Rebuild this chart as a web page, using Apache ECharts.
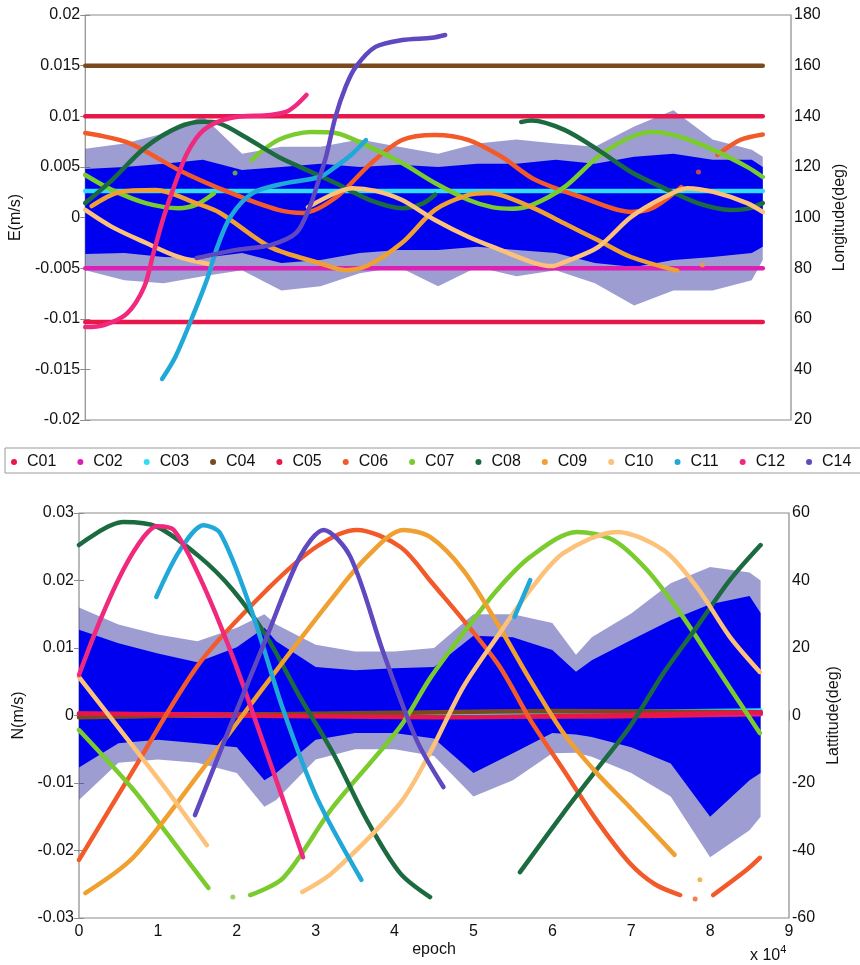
<!DOCTYPE html>
<html>
<head>
<meta charset="utf-8">
<script src="https://cdn.jsdelivr.net/npm/echarts@6/dist/echarts.min.js"></script>
<style>
  html, body { margin: 0; padding: 0; background: #fff; }
  #chart { width: 860px; height: 965px; }
</style>
</head>
<body>
<div id="chart"></div>
<script>
  // epoch values are in units of 10^4 s (as on the axis)
  const satNames = ['C01', 'C02', 'C03', 'C04', 'C05', 'C06', 'C07', 'C08', 'C09', 'C10', 'C11', 'C12', 'C14'];

  // ---- top panel: E velocity noise envelope (m/s) ----
  const noiseEpochTop = [0, 0.5, 1, 1.5, 2, 2.5, 3, 3.5, 4, 4.5, 5, 5.5, 6, 6.5, 7, 7.5, 8, 8.5, 8.64];
  const eCoreUp = [0.0048, 0.005, 0.0053, 0.0057, 0.0047, 0.005, 0.0053, 0.005, 0.0052, 0.005, 0.0053, 0.0053, 0.0057, 0.0053, 0.006, 0.0063, 0.0057, 0.0057, 0.005];
  const eCoreLow = [-0.0036, -0.0035, -0.0039, -0.004, -0.0035, -0.0045, -0.0042, -0.0035, -0.0032, -0.0032, -0.0029, -0.0032, -0.0035, -0.0045, -0.0049, -0.0042, -0.0039, -0.0035, -0.0029];
  const eSpikeUp = [0.0068, 0.0073, 0.0083, 0.01, 0.0063, 0.007, 0.007, 0.0077, 0.007, 0.0063, 0.0073, 0.0077, 0.0073, 0.007, 0.009, 0.0106, 0.0077, 0.0067, 0.006];
  const eSpikeLow = [-0.0052, -0.0062, -0.0065, -0.0058, -0.0052, -0.0072, -0.0068, -0.0055, -0.0049, -0.0068, -0.0049, -0.0058, -0.0052, -0.0065, -0.0087, -0.0072, -0.0072, -0.0062, -0.0042];

  // ---- top panel: satellite longitude (deg) ----
  const lonC01 = [[0, 140], [8.64, 140]];
  const lonC02 = [[0, 80], [8.64, 80]];
  const lonC03 = [[0, 110.5], [8.64, 110.5]];
  const lonC04 = [[0, 160], [8.64, 160]];
  const lonC05 = [[0, 58.7], [8.64, 58.7]];
  const lonC06 = [[0, 133.4], [0.56, 129.4], [1.19, 118.8], [1.83, 110], [2.46, 103], [2.78, 101.8], [3.2, 108], [3.63, 121], [4.04, 130.6], [4.46, 132.6], [4.89, 130.6], [5.31, 124], [5.73, 115], [6.33, 108], [6.96, 102.2], [7.25, 104], [7.6, 112], [7.7, null], [8.06, 124.7], [8.35, 130.6], [8.64, 132.8]];
  const lonC07 = [[0, 116.8], [0.34, 110.9], [0.77, 105.7], [1.19, 103.7], [1.41, 105], [1.64, 109.5], [1.78, null], [2.12, 122.7], [2.46, 130.6], [2.88, 133.8], [3.19, 133.4], [3.63, 127.8], [4.04, 121.5], [4.46, 113.6], [4.89, 106.9], [5.2, 104], [5.45, 103.5], [5.7, 105], [6.11, 112], [6.54, 124], [6.96, 131.8], [7.25, 133.8], [7.59, 131.8], [8.01, 126.7], [8.44, 120], [8.64, 116]];
  const lonC08 = [[0, 105.7], [0.34, 114.8], [0.77, 127.8], [1.19, 135.7], [1.5, 137.8], [1.7, 137.3], [2.04, 131.8], [2.46, 124], [2.88, 118], [3.19, 113.6], [3.63, 106.9], [4.04, 103.7], [4.3, 105.5], [4.46, 109], [5, null], [5.56, 137.7], [5.69, 138.3], [6.11, 134.6], [6.54, 126.7], [6.96, 118], [7.38, 111.6], [7.81, 105.7], [8.23, 103], [8.45, 103.5], [8.64, 105.7]];
  const lonC09 = [[0.08, 104.5], [0.43, 110], [0.9, 110.9], [1.41, 105.7], [1.72, 101.8], [2.36, 88.3], [2.99, 82], [3.32, 79.2], [3.6, 81], [4.04, 90], [4.46, 103], [4.89, 108.9], [5.15, 109.7], [5.69, 104.1], [6.1, 97.8], [6.54, 91], [6.96, 84.4], [7.55, 79]];
  const lonC10 = [[0, 103], [0.34, 96.3], [0.77, 90], [1.19, 84.4], [1.62, 81.3], [2.2, null], [2.84, 104.1], [3.19, 109.7], [3.41, 111.6], [3.7, 110.5], [4.04, 106.9], [4.46, 99], [4.89, 92.3], [5.31, 87], [5.73, 82], [5.95, 80.8], [6.11, 82.4], [6.54, 88.3], [6.96, 100.2], [7.38, 108], [7.68, 111.6], [8.01, 110.1], [8.44, 105.7], [8.64, 102.2]];
  const lonC11 = [[0.98, 36.2], [1.15, 45], [1.35, 59.5], [1.55, 75.3], [1.68, 88], [1.85, 100.2], [2.14, 109.7], [2.56, 113.6], [2.99, 116], [3.19, 120], [3.4, 125], [3.58, 130.6]];
  const lonC12 = [[0, 56.7], [0.24, 57.5], [0.53, 62], [0.75, 72.5], [0.87, 86], [1, 100.2], [1.13, 112], [1.3, 125.5], [1.51, 134.6], [1.85, 139.3], [2.36, 140.5], [2.56, 141.7], [2.69, 144.4], [2.82, 148.4]];
  const lonC14 = [[1.42, 84], [1.93, 87.2], [2.36, 89.1], [2.69, 93.9], [2.86, 104], [2.99, 116], [3.07, 124], [3.19, 139.7], [3.32, 151.6], [3.45, 159.5], [3.7, 167.4], [4.04, 170.1], [4.42, 171], [4.59, 172.1]];
  const lonDots = { C06: [[7.82, 118]], C07: [[1.91, 117.6]], C09: [[7.87, 81.2]] };

  // ---- bottom panel: N velocity noise envelope (m/s) ----
  const noiseEpochBot = [0, 0.5, 1, 1.5, 2, 2.35, 2.5, 3, 3.5, 4, 4.5, 5, 5.5, 6, 6.3, 6.5, 7, 7.5, 8, 8.5, 8.64];
  const nCoreUp = [0.0127, 0.0107, 0.0092, 0.0079, 0.0101, 0.013, 0.011, 0.0072, 0.0067, 0.007, 0.0072, 0.0118, 0.0116, 0.0097, 0.0065, 0.0082, 0.0112, 0.0141, 0.0165, 0.0177, 0.0152];
  const nCoreLow = [-0.0077, -0.0041, -0.0036, -0.0041, -0.0047, -0.0096, -0.0085, -0.0036, -0.0026, -0.0026, -0.0034, -0.0085, -0.0056, -0.0026, -0.0028, -0.0032, -0.0047, -0.0071, -0.015, -0.0096, -0.0085];
  const nSpikeUp = [0.016, 0.0135, 0.012, 0.011, 0.013, 0.015, 0.0135, 0.0105, 0.0095, 0.0095, 0.01, 0.015, 0.015, 0.0137, 0.009, 0.0116, 0.0151, 0.0196, 0.022, 0.0212, 0.02];
  const nSpikeLow = [-0.0125, -0.007, -0.0065, -0.007, -0.0085, -0.0135, -0.0125, -0.0065, -0.005, -0.005, -0.006, -0.012, -0.0096, -0.0056, -0.0055, -0.0061, -0.0085, -0.012, -0.021, -0.017, -0.015];

  // ---- bottom panel: satellite latitude (deg) ----
  const latC01 = [[0, 0.5], [2, 0.3], [4, -0.2], [6, -0.3], [8.64, 0.4]];
  const latC02 = [[0, 0.3], [4, 0.1], [8.64, 0.5]];
  const latC03 = [[0, -0.2], [4, 0.4], [8.64, 1.5]];
  const latC04 = [[0, -0.5], [2, 0.2], [4, 0.8], [6, 1.3], [8.64, 1]];
  const latC05 = [[0, 0.6], [4.5, -0.5], [8.64, 0.9]];
  const latC06 = [[0, -42.8], [0.69, -16.1], [1.53, 15.6], [2.38, 37.2], [3.01, 50], [3.52, 55], [4.07, 50], [4.45, 40], [5.3, 15.6], [5.72, -1.3], [6.14, -16.1], [6.56, -31], [6.98, -43.7], [7.3, -50], [7.62, -53.2], [7.7, null], [8.04, -53.2], [8.46, -45.8], [8.63, -42.2]];
  const latC07 = [[0, -4.3], [0.69, -22], [1.11, -34.8], [1.64, -51.1], [1.8, null], [2.17, -53.2], [2.59, -48.1], [3.22, -27.1], [4.07, -3.4], [4.45, 11], [4.87, 24.4], [5.3, 37.2], [5.72, 47], [6.31, 54.4], [6.77, 52], [7.2, 43.1], [7.62, 30.4], [8.04, 15.6], [8.63, -5.2]];
  const latC08 = [[0, 50.5], [0.56, 57.3], [0.99, 55.9], [1.53, 47], [1.95, 37.2], [2.38, 23.3], [2.8, 5.5], [3.22, -11.1], [3.65, -31], [4.07, -46.7], [4.45, -53.8], [5, null], [5.59, -46.4], [6.14, -28.9], [6.56, -16.1], [6.98, -3.4], [7.41, 12.6], [7.83, 26.2], [8.25, 40.1], [8.64, 50.5]];
  const latC09 = [[0.08, -52.6], [0.69, -42], [1.53, -17], [2.38, 9.6], [3.22, 35.1], [3.65, 47], [4.11, 55], [4.45, 52.9], [4.87, 43.1], [5.3, 27.4], [5.72, 10.5], [6.14, -5.2], [6.56, -17], [6.98, -27.1], [7.55, -41.3]];
  const latC10 = [[0, 11.4], [0.69, -9.3], [1.11, -22], [1.62, -38.4], [2.2, null], [2.83, -52.3], [3.22, -46.4], [4.07, -26], [4.45, -11], [4.87, 8.4], [5.3, 23.3], [5.72, 37.2], [6.14, 48.1], [6.82, 54.4], [7.41, 49], [7.83, 38.1], [8.25, 23.3], [8.63, 12.9]];
  const latC11 = [[0.98, 35.1], [1.28, 49], [1.58, 56.4], [1.79, 54], [2.17, 32.2], [2.59, 1.6], [3.01, -24.1], [3.58, -48.7], [4.5, null], [5.52, 29.2], [5.72, 40.1]];
  const latC12 = [[0, 12], [0.27, 28.3], [0.56, 43.1], [0.82, 52.9], [0.99, 56.1], [1.2, 55], [1.53, 41], [1.95, 17.3], [2.38, -11.1], [2.84, -42]];
  const latC14 = [[1.47, -29.5], [1.95, -1.3], [2.38, 23.3], [2.8, 47], [3.1, 55], [3.44, 47], [3.86, 18.5], [4.28, -7.3], [4.62, -21.2]];
  const latDots = { C06: [[7.81, -54.4]], C07: [[1.95, -53.8]], C09: [[7.87, -48.7]] };

  const satColor = {
    C01: '#e8174a', C02: '#de1fb4', C03: '#33dcf2', C04: '#7a4a1e', C05: '#e8174a',
    C06: '#f25a2a', C07: '#7acb2e', C08: '#1c6b40', C09: '#f0a030', C10: '#fcc27a',
    C11: '#1fa8d8', C12: '#f0287e', C14: '#6048c0'
  };

  const lonData = { C01: lonC01, C02: lonC02, C03: lonC03, C04: lonC04, C05: lonC05, C06: lonC06, C07: lonC07, C08: lonC08, C09: lonC09, C10: lonC10, C11: lonC11, C12: lonC12, C14: lonC14 };
  const latData = { C01: latC01, C02: latC02, C03: latC03, C04: latC04, C05: latC05, C06: latC06, C07: latC07, C08: latC08, C09: latC09, C10: latC10, C11: latC11, C12: latC12, C14: latC14 };

  const chart = echarts.init(document.getElementById('chart'));

  const textColor = '#111';
  const frameColor = '#8c8c8c';
  const font = 'Liberation Sans, Arial, sans-serif';

  // blue noise: envelope polygons placed through the axis scales
  const noiseSeries = (epochs, spikeLow, coreLow, coreUp, spikeUp, xi, yi) => ({
    type: 'custom',
    xAxisIndex: xi,
    yAxisIndex: yi,
    silent: true,
    clip: true,
    z: 1,
    data: [[epochs[0], 0]],
    renderItem: (params, api) => {
      const poly = (up, low) => {
        const top = epochs.map((e, i) => api.coord([e, up[i]]));
        const bottom = epochs.map((e, i) => api.coord([e, low[i]])).reverse();
        return top.concat(bottom);
      };
      return {
        type: 'group',
        children: [
          { type: 'polygon', shape: { points: poly(spikeUp, spikeLow) }, style: { fill: 'rgba(60,60,165,0.5)' } },
          { type: 'polygon', shape: { points: poly(coreUp, coreLow) }, style: { fill: '#0000f0' } },
        ],
      };
    },
  });

  const satSeries = (name, data, xi, yi) => ({
    name,
    type: 'line',
    xAxisIndex: xi,
    yAxisIndex: yi,
    data,
    smooth: 0.3,
    showSymbol: false,
    silent: true,
    z: 3,
    lineStyle: { width: 4.5, color: satColor[name], cap: 'round' },
    itemStyle: { color: satColor[name] },
  });

  const dotSeries = (name, data, xi, yi) => ({
    name,
    type: 'scatter',
    xAxisIndex: xi,
    yAxisIndex: yi,
    data,
    symbolSize: 5,
    silent: true,
    z: 3,
    itemStyle: { color: satColor[name] },
  });

  const series = [];
  series.push(noiseSeries(noiseEpochTop, eSpikeLow, eCoreLow, eCoreUp, eSpikeUp, 0, 0));
  series.push(noiseSeries(noiseEpochBot, nSpikeLow, nCoreLow, nCoreUp, nSpikeUp, 2, 2));
  satNames.forEach((n) => {
    series.push(satSeries(n, lonData[n], 0, 1));
    series.push(satSeries(n, latData[n], 2, 3));
  });
  Object.keys(lonDots).forEach((n) => series.push(dotSeries(n, lonDots[n], 0, 1)));
  Object.keys(latDots).forEach((n) => series.push(dotSeries(n, latDots[n], 2, 3)));

  const labelStyle = { color: textColor, fontSize: 16, fontFamily: font };
  const nameStyle = { color: textColor, fontSize: 16, fontFamily: font };
  const tickStyle = { show: true, inside: true, length: 5, lineStyle: { color: frameColor } };

  const option = {
    animation: false,
    backgroundColor: '#fff',
    grid: [
      { left: 81, top: 15, width: 710, height: 405, show: true, borderColor: frameColor, borderWidth: 1.2, backgroundColor: 'transparent' },
      { left: 79, top: 513, width: 710, height: 405, show: true, borderColor: frameColor, borderWidth: 1.2, backgroundColor: 'transparent' },
    ],
    legend: {
      data: satNames,
      left: 11,
      top: 454,
      width: 900,
      padding: 0,
      icon: 'circle',
      itemWidth: 16,
      itemHeight: 6,
      itemGap: 21,
      textStyle: { color: textColor, fontSize: 16, fontFamily: font },
      selectedMode: false,
    },
    xAxis: [
      { gridIndex: 0, type: 'value', min: 0, max: 9, interval: 1, axisLine: { show: false }, axisTick: { show: false }, axisLabel: { show: false }, splitLine: { show: false } },
      { gridIndex: 0, type: 'value', position: 'top', min: 0, max: 9, interval: 1, axisLine: { show: false }, axisTick: { show: false }, axisLabel: { show: false }, splitLine: { show: false } },
      {
        gridIndex: 1, type: 'value', min: 0, max: 9, interval: 1,
        name: 'epoch', nameLocation: 'middle', nameGap: 24, nameTextStyle: nameStyle,
        axisLine: { show: false },
        axisTick: tickStyle,
        axisLabel: { ...labelStyle, margin: 6 },
        splitLine: { show: false },
      },
      {
        gridIndex: 1, type: 'value', position: 'top', min: 0, max: 9, interval: 1,
        axisLine: { show: false },
        axisTick: tickStyle,
        axisLabel: { show: false },
        splitLine: { show: false },
      },
    ],
    yAxis: [
      {
        gridIndex: 0, type: 'value', position: 'left', min: -0.02, max: 0.02, interval: 0.005,
        name: 'E(m/s)', nameLocation: 'middle', nameGap: 58, nameRotate: 90, nameTextStyle: nameStyle,
        axisLine: { show: false }, axisTick: tickStyle,
        axisLabel: { ...labelStyle, margin: 5 },
        splitLine: { show: false },
      },
      {
        gridIndex: 0, type: 'value', position: 'right', min: 20, max: 180, interval: 20,
        name: 'Longitude(deg)', nameLocation: 'middle', nameGap: 36, nameRotate: 90, nameTextStyle: nameStyle,
        axisLine: { show: false }, axisTick: tickStyle,
        axisLabel: { ...labelStyle, margin: 3 },
        splitLine: { show: false },
      },
      {
        gridIndex: 1, type: 'value', position: 'left', min: -0.03, max: 0.03, interval: 0.01,
        name: 'N(m/s)', nameLocation: 'middle', nameGap: 48, nameRotate: 90, nameTextStyle: nameStyle,
        axisLine: { show: false }, axisTick: tickStyle,
        axisLabel: { ...labelStyle, margin: 5 },
        splitLine: { show: false },
      },
      {
        gridIndex: 1, type: 'value', position: 'right', min: -60, max: 60, interval: 20,
        name: 'Lattitude(deg)', nameLocation: 'middle', nameGap: 33, nameRotate: 90, nameTextStyle: nameStyle,
        axisLine: { show: false }, axisTick: tickStyle,
        axisLabel: { ...labelStyle, margin: 3 },
        splitLine: { show: false },
      },
    ],
    graphic: [
      {
        type: 'rect', z: -1, silent: true,
        shape: { x: 5, y: 448, width: 880, height: 25 },
        style: { fill: '#fff', stroke: '#9a9a9a', lineWidth: 1 },
      },
      {
        type: 'text', left: 750, top: 944, silent: true,
        style: {
          text: '{a|x 10}{b|4}',
          rich: {
            a: { fontSize: 16, fontFamily: font, fill: textColor, verticalAlign: 'bottom', lineHeight: 20 },
            b: { fontSize: 11, fontFamily: font, fill: textColor, verticalAlign: 'top', lineHeight: 20 },
          },
        },
      },
    ],
    series,
  };

  chart.setOption(option);
  window.addEventListener('resize', () => chart.resize());
</script>
</body>
</html>
